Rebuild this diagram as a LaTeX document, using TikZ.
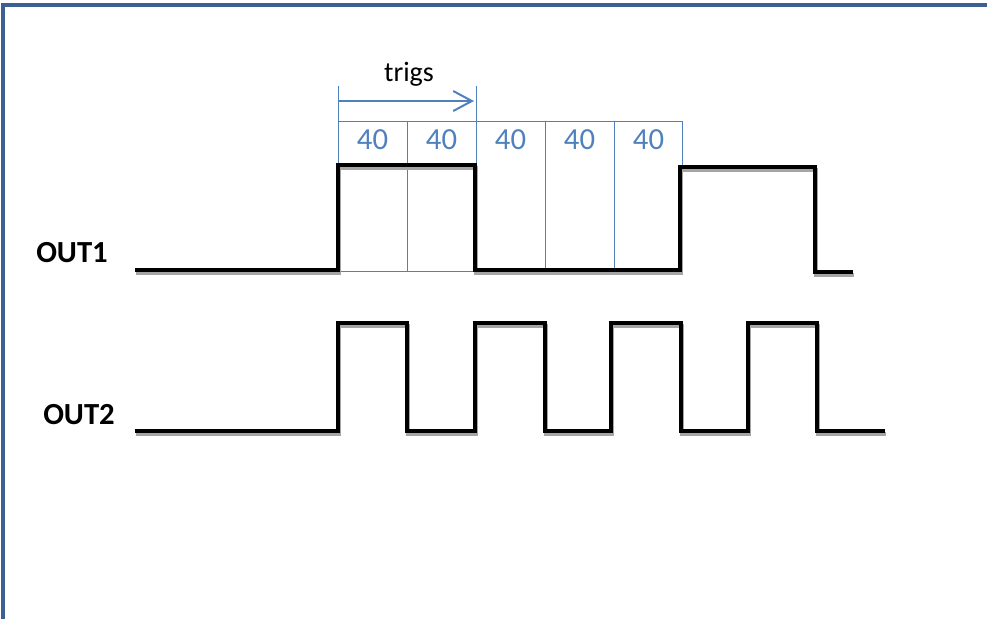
\documentclass[tikz,border=0pt]{standalone}
\usepackage{fontspec}
\setmainfont{Carlito}
\usetikzlibrary{arrows.meta}
\definecolor{frameblue}{RGB}{60,96,146}
\definecolor{gridblue}{RGB}{79,129,189}
\tikzset{every picture/.style={line width=0.75pt}}
\tikzset{
  wave/.style={line width=3.5pt, black},
  waveshadow/.style={line width=3.5pt, color={rgb,255:red,165;green,165;blue,165}, shift={(1,3)}},
  grid line/.style={draw=gridblue, line width=0.75pt},
  cell text/.style={text=gridblue, font=\fontsize{23}{26}\selectfont, inner sep=0.75pt},
  sig label/.style={font=\fontsize{23}{26}\selectfont\bfseries, inner sep=0.75pt},
}

\begin{document}
\begin{tikzpicture}[x=0.75pt,y=0.75pt,yscale=-1,xscale=1]
\useasboundingbox (0,0) rectangle (987,619);

%Frame
\draw [frameblue, line width=3pt] (3,619) -- (3,5) -- (987,5) ;

%Grid of 40 slots
\draw [grid line] (338,121) rectangle (682,271) ;
\foreach \gx in {407,476,545,614}
  \draw [grid line] (\gx,121) -- (\gx,271) ;
\foreach \i in {0,...,4}
  \node [cell text] (c\i) at (372.5+69*\i,140) {40};

%Trigs marker
\coordinate (trigL) at (338,101);
\coordinate (trigR) at (474,101);
\draw [grid line] (338,86) -- (338,121) ;
\draw [grid line] (476,86) -- (476,121) ;
\draw [draw=gridblue, line width=1.5pt, -{Straight Barb[length=14pt,width=15pt]}] (trigL) -- (trigR) ;
\node [font=\fontsize{21}{24}\selectfont, inner sep=0.75pt] (trigs) at (409,74) {trigs};

%OUT1 wave
\foreach \st in {waveshadow,wave}
  \draw [\st] (135,270) -| (338,165) -| (475,270) -| (680,167) -| (815,272) -- (853,272) ;
%OUT2 wave
\foreach \st in {waveshadow,wave}
  \draw [\st] (135,431) -| (338,323) -| (407,431) -| (475,323) -| (545,431) -| (611,323) -| (681,431) -| (748,323) -| (817,431) -- (885,431) ;

% Text Node
\node [sig label] (out1) at (72,253) {OUT1};
% Text Node
\node [sig label] (out2) at (79,415) {OUT2};

\end{tikzpicture}
\end{document}
